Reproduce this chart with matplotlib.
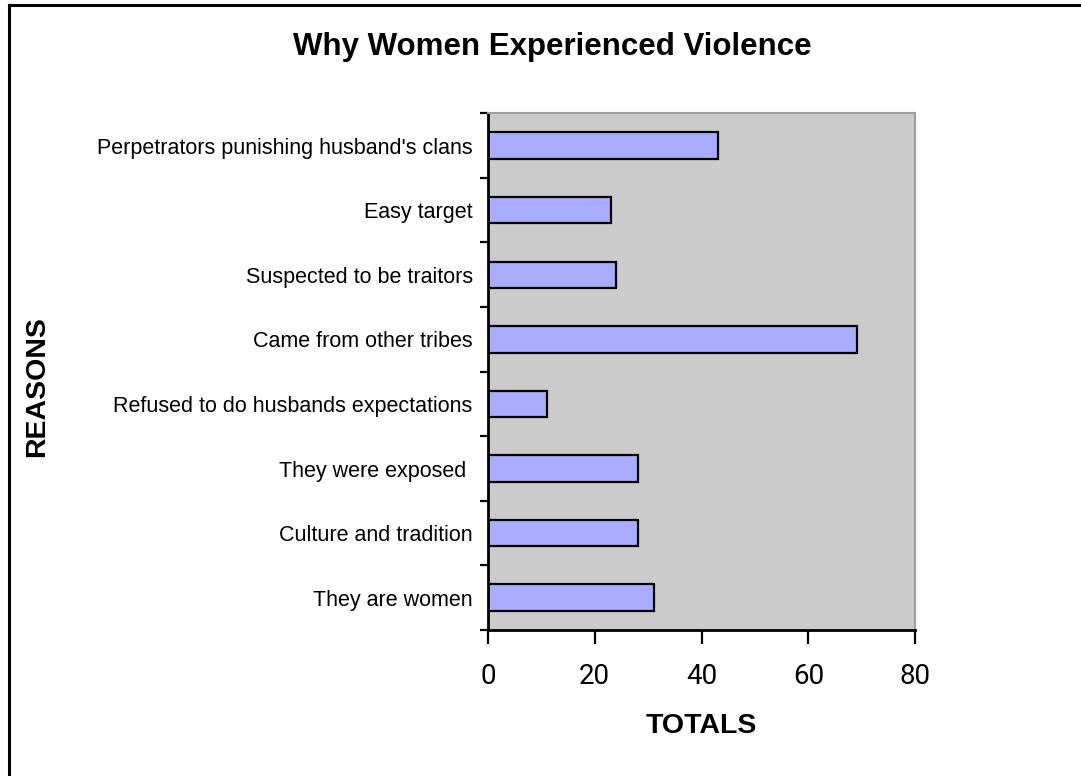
import numpy as np
import matplotlib.pyplot as plt
from matplotlib.lines import Line2D

# reasons listed bottom to top, as drawn on the y axis
reasons = ["They are women", "Culture and tradition", "They were exposed ",
           "Refused to do husbands expectations", "Came from other tribes",
           "Suspected to be traitors", "Easy target",
           "Perpetrators punishing husband's clans"]
totals = [31, 28, 28, 11, 69, 24, 23, 43]
xticks = [0, 20, 40, 60, 80]

fig = plt.figure(figsize=(10.81, 7.76), dpi=100)
ax = fig.add_axes([0.4514, 0.1881, 0.3953, 0.6659])

y = np.arange(len(reasons))
ax.barh(y, totals, height=0.41, color="#A9ACFF", edgecolor="black", linewidth=1.6)

ax.set_facecolor("#CBCBCB")
ax.set_xlim(0, 80)
ax.set_ylim(-0.5, len(reasons) - 0.5)

# category names in the middle, tick marks on the boundaries between them
ax.set_yticks(y)
ax.set_yticklabels(reasons, fontsize=15.5, family="Liberation Sans")
ax.set_yticks(np.arange(-0.5, len(reasons)), minor=True)
ax.tick_params(axis="y", which="major", length=0, pad=11)
ax.tick_params(axis="y", which="minor", length=6, width=1.6, direction="out")

ax.set_xticks(xticks)
ax.set_xticklabels([str(v) for v in xticks], fontsize=20, family="Roboto")
ax.tick_params(axis="x", length=10, width=1.6, direction="out", pad=14)

for side in ["left", "bottom"]:
    ax.spines[side].set_linewidth(2)
    ax.spines[side].set_color("black")
for side in ["top", "right"]:
    ax.spines[side].set_linewidth(1.5)
    ax.spines[side].set_color("#A0A0A0")

ax.set_xlabel("TOTALS", fontsize=20.5, fontweight="bold", family="Liberation Sans", labelpad=16)
fig.text(0.034, 0.502, "REASONS", rotation=90, fontsize=20.5, fontweight="bold",
         family="Liberation Sans", ha="center", va="center")
fig.text(0.511, 0.939, "Why Women Experienced Violence", fontsize=22.5,
         family="Liberation Sans", fontweight="bold", ha="center", va="center")

# chart frame along the left and top edges
fig.add_artist(Line2D([0.0083, 0.0083], [0.0, 0.9930], color="black", lw=2.2))
fig.add_artist(Line2D([0.0083, 1.0], [0.9930, 0.9930], color="black", lw=2.2))

plt.savefig("out.png", dpi=100)
